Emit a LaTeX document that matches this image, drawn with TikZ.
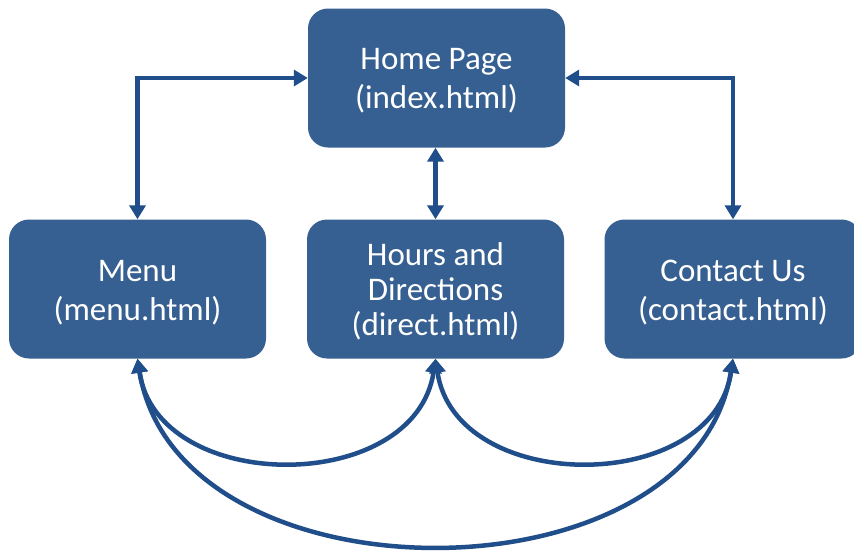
\documentclass[tikz,border=0pt]{standalone}
\usepackage{fontspec}
\setmainfont{Carlito}
\usetikzlibrary{arrows.meta}
\definecolor{pagefill}{HTML}{376092}
\definecolor{linkblue}{HTML}{1F4E8A}
\begin{document}
\begin{tikzpicture}[x=1pt,y=-1pt,
  page/.style={draw=none, fill=pagefill, rounded corners=20pt,
    minimum width=257pt, minimum height=139pt, inner sep=0pt},
  caption/.style={inner sep=0pt, align=center, text=white,
    font=\fontsize{33}{39}\selectfont},
  link/.style={draw=linkblue, line width=4.5pt,
    {Triangle[length=14pt,width=16pt]}-{Triangle[length=14pt,width=16pt]}}]
  \useasboundingbox[fill=white] (0,0) rectangle (854,550);

  % pages
  \node[page] (home)    at (436.5,78)  {};
  \node[page] (menu)    at (137.5,289) {};
  \node[page] (hours)   at (435.5,289) {};
  \node[page] (contact) at (733,289)   {};

  % page titles (yshift is in canvas points, so negative moves down)
  \node[caption] (hometext)    at ([yshift=-3pt]home.center)    {Home Page\\(index.html)};
  \node[caption] (menutext)    at ([yshift=-4pt]menu.center)    {Menu\\(menu.html)};
  \node[caption, font=\fontsize{33}{35}\selectfont]
                 (hourstext)   at ([yshift=-2pt]hours.center)   {Hours and\\Directions\\(direct.html)};
  \node[caption] (contacttext) at ([yshift=-4pt]contact.center) {Contact Us\\(contact.html)};

  % links to and from the home page
  \draw[link] (menu.north) |- (home.west);
  \draw[link] (contact.north) |- (home.east);
  \draw[link] (hours.north |- home.south) -- (hours.north);

  % links between the second-level pages
  \draw[link] (menu.south) .. controls +(20,137) and +(-20,137) .. (hours.south);
  \draw[link] (hours.south) .. controls +(20,137) and +(-20,137) .. (contact.south);
  \draw[link] (menu.south) .. controls +(40,248) and +(-40,248) .. (contact.south);
\end{tikzpicture}
\end{document}
